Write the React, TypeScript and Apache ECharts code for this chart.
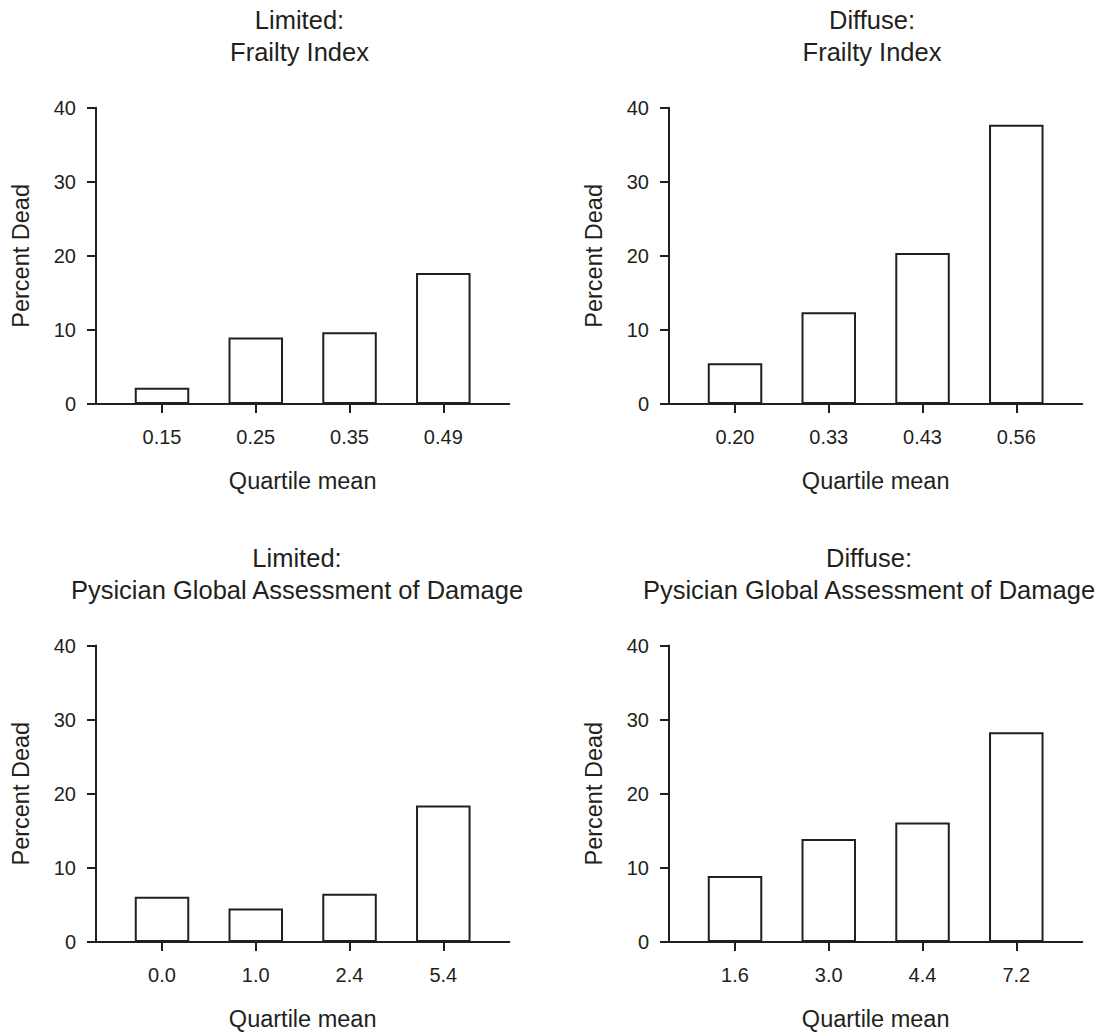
import React, { useEffect, useRef } from 'react';
import * as echarts from 'echarts';

// ---- data ----
const panelTitles = [
  'Limited:\nFrailty Index',
  'Diffuse:\nFrailty Index',
  'Limited:\nPysician Global Assessment of Damage',
  'Diffuse:\nPysician Global Assessment of Damage',
];
const catsLimitedFrailty = ['0.15', '0.25', '0.35', '0.49'];
const valsLimitedFrailty = [2.2, 9.0, 9.7, 17.7];
const catsDiffuseFrailty = ['0.20', '0.33', '0.43', '0.56'];
const valsDiffuseFrailty = [5.5, 12.4, 20.4, 37.7];
const catsLimitedPGA = ['0.0', '1.0', '2.4', '5.4'];
const valsLimitedPGA = [6.1, 4.5, 6.5, 18.4];
const catsDiffusePGA = ['1.6', '3.0', '4.4', '7.2'];
const valsDiffusePGA = [8.9, 13.9, 16.1, 28.3];
const yTicks = [0, 10, 20, 30, 40];
const xName = 'Quartile mean';
const yName = 'Percent Dead';

const INK = '#231f20';
const FONT = '"Liberation Sans", Arial, Helvetica, sans-serif';

const panels = [
  { cats: catsLimitedFrailty, vals: valsLimitedFrailty, left: 96, top: 107.7, tx: 299.5, ty: 4 },
  { cats: catsDiffuseFrailty, vals: valsDiffuseFrailty, left: 669, top: 107.7, tx: 872, ty: 4 },
  { cats: catsLimitedPGA, vals: valsLimitedPGA, left: 96, top: 645.5, tx: 297, ty: 542 },
  { cats: catsDiffusePGA, vals: valsDiffusePGA, left: 669, top: 645.5, tx: 869, ty: 542 },
];

export default function App() {
  const ref = useRef<HTMLDivElement>(null);
  useEffect(() => {
    if (!ref.current) return;
    const chart = echarts.init(ref.current, undefined, { renderer: 'svg' });
    const idx = [0, 1, 2, 3];
    const option: any = {
      animation: false,
      backgroundColor: '#ffffff',
      grid: panels.map((p) => ({
        left: p.left,
        top: p.top,
        width: 413.3,
        height: 296.4,
        containLabel: false,
        outerBoundsMode: 'none',
      })),
      xAxis: panels.map((p, i) => ({
        gridIndex: i,
        type: 'value',
        min: -0.704,
        max: 3.704,
        splitLine: { show: false },
        axisLine: { show: true, onZero: false, lineStyle: { color: INK, width: 2 } },
        axisTick: { show: true, customValues: idx, length: 9, lineStyle: { color: INK, width: 2 } },
        axisLabel: {
          customValues: idx,
          formatter: (v: number) => p.cats[Math.round(v)] ?? '',
          margin: 23,
          fontSize: 20,
          color: INK,
          fontFamily: FONT,
        },
        name: xName,
        nameLocation: 'middle',
        nameGap: 65,
        nameTextStyle: { fontSize: 23.5, color: INK, fontFamily: FONT },
      })),
      yAxis: panels.map((p, i) => ({
        gridIndex: i,
        type: 'value',
        min: yTicks[0],
        max: yTicks[yTicks.length - 1],
        interval: 10,
        splitLine: { show: false },
        axisLine: { show: true, onZero: false, lineStyle: { color: INK, width: 2 } },
        axisTick: { show: true, length: 9, lineStyle: { color: INK, width: 2 } },
        axisLabel: { margin: 20, fontSize: 20, color: INK, fontFamily: FONT },
        name: yName,
        nameLocation: 'middle',
        nameRotate: 90,
        nameGap: 63,
        nameTextStyle: { fontSize: 23.5, color: INK, fontFamily: FONT },
      })),
      series: panels.map((p, i) => ({
        type: 'bar',
        xAxisIndex: i,
        yAxisIndex: i,
        data: p.vals.map((v, j) => [j, v]),
        barWidth: 54.5,
        itemStyle: { color: '#ffffff', borderColor: INK, borderWidth: 2 },
        emphasis: { disabled: true },
      })),
      graphic: panels.map((p, i) => ({
        type: 'text',
        x: p.tx,
        y: p.ty,
        style: {
          text: panelTitles[i],
          align: 'center',
          verticalAlign: 'top',
          fontSize: 25.5,
          lineHeight: 32,
          fontFamily: FONT,
          fill: INK,
        },
      })),
    };
    chart.setOption(option);
    return () => chart.dispose();
  }, []);
  return (
    <div
      ref={ref}
      style={{ position: 'fixed', left: 0, top: 0, width: 1101, height: 1032, background: '#fff' }}
    />
  );
}
